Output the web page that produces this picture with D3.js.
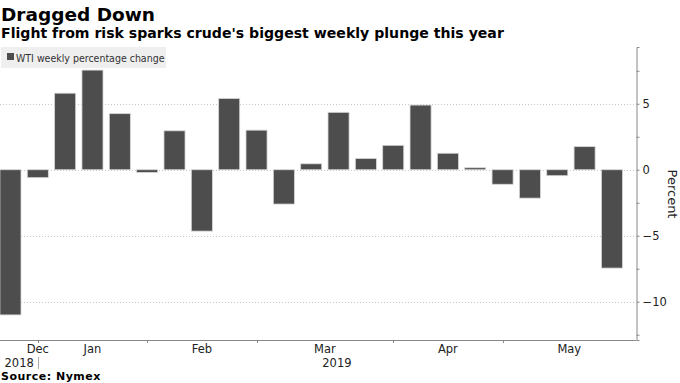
<!DOCTYPE html>
<html><head><meta charset="utf-8">
<script src="https://cdn.jsdelivr.net/npm/d3@7"></script>
<style>
html,body{margin:0;padding:0;background:#fff;}
svg text{font-family:"DejaVu Sans",sans-serif;}
</style></head>
<body><svg id="c" width="680" height="383"></svg>
<script>
// ---- data ----
const weeks = ["2018-12-21","2018-12-28","2019-01-04","2019-01-11","2019-01-18","2019-01-25",
  "2019-02-01","2019-02-08","2019-02-15","2019-02-22","2019-03-01","2019-03-08","2019-03-15",
  "2019-03-22","2019-03-29","2019-04-05","2019-04-12","2019-04-19","2019-04-26","2019-05-03",
  "2019-05-10","2019-05-17","2019-05-24"];
const wtiChange = [-11.0,-0.6,5.8,7.55,4.25,-0.2,2.95,-4.65,5.4,3.0,-2.6,0.45,4.35,0.85,1.85,4.9,1.25,0.15,-1.1,-2.15,-0.45,1.75,-7.45];
const monthTickWeeks = ["2018-12-28","2019-01-25","2019-02-22","2019-03-29","2019-04-26"];
const monthLabels = ["Dec","Jan","Feb","Mar","Apr","May"];
const yearLabels = ["2018","2019"];
const yTicks = [5,0,-5,-10];
const yMinorTicks = [7.5,2.5,-2.5,-7.5,-12.5];

const svg = d3.select("#c");
const plotLeft = 0, plotRight = 636, plotTop = 47, plotBottom = 340;

const x = d3.scaleBand().domain(weeks).range([-3.2, 625.6]).paddingInner(0.23).paddingOuter(0.115);
const y = d3.scaleLinear().domain([-12.9, 9.3]).range([plotBottom, plotTop]);

// titles
svg.append("text").attr("x",1).attr("y",21).attr("font-size",18.5).attr("font-weight","bold").attr("fill","#000").text("Dragged Down");
svg.append("text").attr("x",1).attr("y",38).attr("font-size",14.1).attr("font-weight","bold").attr("fill","#000")
  .text("Flight from risk sparks crude's biggest weekly plunge this year");

// legend
svg.append("rect").attr("x",1).attr("y",47).attr("width",165).attr("height",21).attr("fill","#efefef");
svg.append("rect").attr("x",7).attr("y",53).attr("width",7).attr("height",7).attr("fill","#4d4d4d");
svg.append("text").attr("x",16).attr("y",61.5).attr("font-size",10.5).attr("fill","#333")
  .style("font-family","'DejaVu Sans Condensed','DejaVu Sans',sans-serif").text("WTI weekly percentage change");

// gridlines
svg.append("g").selectAll("line").data(yTicks).join("line")
  .attr("x1",plotLeft).attr("x2",plotRight).attr("y1",d=>Math.round(y(d))+0.5).attr("y2",d=>Math.round(y(d))+0.5)
  .attr("stroke","#c8c8c8").attr("stroke-dasharray","1,2");

// bars
svg.append("g").selectAll("rect").data(weeks).join("rect")
  .attr("x",(d)=>x(d)).attr("width",x.bandwidth())
  .attr("y",(d,i)=>y(Math.max(0,wtiChange[i])))
  .attr("height",(d,i)=>Math.abs(y(wtiChange[i])-y(0)))
  .attr("fill","#4d4d4d").attr("stroke","#d6d6d6").attr("stroke-width",0.8);

// right axis
const yAxis = d3.axisRight(y).tickValues(yTicks).tickSize(3).tickPadding(3).tickFormat(d3.format("d"));
const ga = svg.append("g").attr("transform",`translate(${plotRight+0.5},0)`).call(yAxis);
ga.select(".domain").attr("stroke","#888");
ga.selectAll(".tick line").attr("stroke","#888");
ga.selectAll(".tick text").attr("font-size",11.5).attr("fill","#222");
const yMinor = d3.axisRight(y).tickValues(yMinorTicks).tickSize(3).tickFormat("");
const gm = svg.append("g").attr("transform",`translate(${plotRight+0.5},0)`).call(yMinor);
gm.select(".domain").remove();
gm.selectAll(".tick line").attr("stroke","#888");

svg.append("text").attr("transform","translate(668,194) rotate(90)").attr("text-anchor","middle")
  .attr("font-size",13).attr("fill","#222").text("Percent");

// bottom axis
svg.append("line").attr("x1",plotLeft).attr("x2",plotRight+0.5).attr("y1",plotBottom+0.5).attr("y2",plotBottom+0.5).attr("stroke","#888");
const tx = monthTickWeeks.map(w => x(w) + x.bandwidth()/2);
svg.append("g").selectAll("line").data(tx).join("line")
  .attr("x1",d=>Math.round(d)+0.5).attr("x2",d=>Math.round(d)+0.5).attr("y1",plotBottom).attr("y2",plotBottom+3).attr("stroke","#888");
const labelX = monthLabels.map((m,i)=> i===0 ? tx[0] : (i<tx.length ? (tx[i-1]+tx[i])/2 : (tx[i-1]+plotRight)/2));
svg.append("g").selectAll("text").data(monthLabels).join("text")
  .attr("x",(d,i)=>labelX[i]).attr("y",353).attr("text-anchor","middle").attr("font-size",11.5).attr("fill","#222").text(d=>d);
svg.append("line").attr("x1",Math.round(tx[0])+0.5).attr("x2",Math.round(tx[0])+0.5).attr("y1",357).attr("y2",369).attr("stroke","#aaa");
svg.append("text").attr("x",tx[0]-4).attr("y",366.5).attr("text-anchor","end").attr("font-size",11.5).attr("fill","#222").text(yearLabels[0]);
svg.append("text").attr("x",(tx[0]+plotRight)/2).attr("y",366.5).attr("text-anchor","middle").attr("font-size",11.5).attr("fill","#222").text(yearLabels[1]);

svg.append("text").attr("x",1).attr("y",380).attr("font-size",11).attr("font-weight","bold").attr("letter-spacing",0.5).attr("fill","#000").text("Source: Nymex");
</script></body></html>
